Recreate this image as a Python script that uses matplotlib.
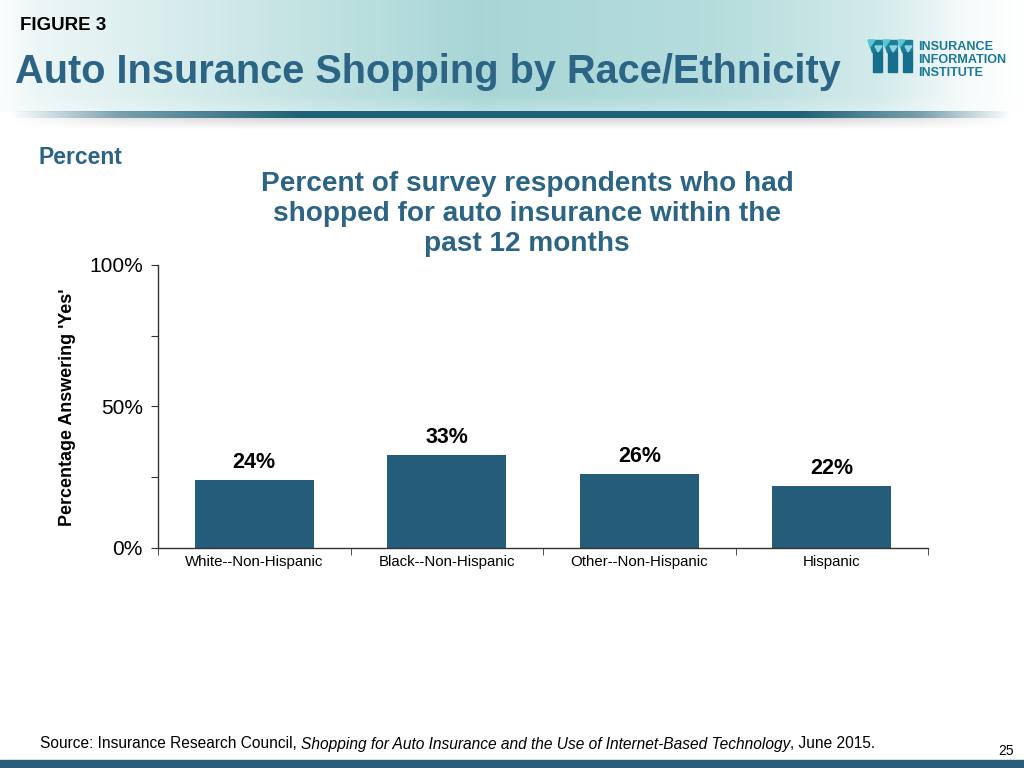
import numpy as np
import matplotlib
matplotlib.use('Agg')
import matplotlib.pyplot as plt
from matplotlib.patches import Rectangle, Polygon

plt.rcParams['font.family'] = ['Liberation Sans', 'DejaVu Sans']

# chart data
categories = ['White--Non-Hispanic', 'Black--Non-Hispanic', 'Other--Non-Hispanic', 'Hispanic']
pct_yes = [24, 33, 26, 22]
value_labels = ['24%', '33%', '26%', '22%']
y_ticks = [0, 25, 50, 75, 100]
y_tick_labels = ['0%', '', '50%', '', '100%']

bar_color = '#245c7a'
title_color = '#2b6485'

fig = plt.figure(figsize=(10.24, 7.68), dpi=100)

# background layer in pixel coordinates
bg = fig.add_axes([0, 0, 1, 1], zorder=-1)
bg.set_xlim(0, 1024)
bg.set_ylim(768, 0)
bg.axis('off')

# header gradient
W = 1024
xs = np.arange(W)
prof = np.interp(xs, [0, 40, 200, 480, 720, 880, 970, 1024],
                 [0.05, 0.2, 0.45, 0.9, 0.75, 0.45, 0.08, 0.0])
teal = np.array([0.62, 0.82, 0.82])
rows = np.ones(112)
rows[95:] = np.linspace(1, 0.75, 17)
img = np.ones((112, W, 3))
for k in range(3):
    img[:, :, k] = 1 - np.outer(rows, prof) * (1 - teal[k])
bg.imshow(img, extent=[0, 1024, 112, 0], aspect='auto', zorder=0)

# dark rule under header + shadow
alpha_prof = np.interp(xs, [10, 120, 300, 800, 920, 1010], [0, 0.6, 1, 1, 0.6, 0])
rule = np.zeros((7, W, 4))
rule[:, :, 0] = 0.12
rule[:, :, 1] = 0.38
rule[:, :, 2] = 0.47
rule[:, :, 3] = alpha_prof
bg.imshow(rule, extent=[0, 1024, 118, 111], aspect='auto', zorder=1)
shadow = np.zeros((12, W, 4))
shadow[:, :, :3] = 0.55
shadow[:, :, 3] = np.outer(np.linspace(0.35, 0, 12), alpha_prof)
bg.imshow(shadow, extent=[0, 1024, 130, 118], aspect='auto', zorder=1)

# bottom strip
bg.add_patch(Rectangle((0, 760), 1024, 8, color='#2a5d78', zorder=1))

# logo
for i in range(3):
    x0 = 868 + 15 * i
    bg.add_patch(Polygon([(x0, 40), (x0 + 14, 40), (x0 + 14, 52), (x0 + 4, 52)],
                         color='#1b7f9c', zorder=2))
    bg.add_patch(Polygon([(x0, 40), (x0 + 7, 40), (x0 + 2, 47)],
                         color='#5cc3d3', zorder=3))
    bg.add_patch(Polygon([(x0 + 7, 46), (x0 + 14, 46), (x0 + 10, 52)],
                         color='#8fd6e0', zorder=3))
    bg.add_patch(Rectangle((x0 + 5, 52), 9, 20, color='#16708d', zorder=2))
for txt, yy in zip(['INSURANCE', 'INFORMATION', 'INSTITUTE'], [47, 60, 73]):
    bg.text(918, yy, txt, fontsize=9.1, fontweight='bold', color='#1b7896',
            va='center', ha='left')

# header texts
bg.text(20, 25, 'FIGURE 3', fontsize=13.5, fontweight='bold', color='black',
        va='center', ha='left')
bg.text(15, 72, 'Auto Insurance Shopping by Race/Ethnicity', fontsize=28.6,
        fontweight='bold', color=title_color, va='center', ha='left')

bg.text(38, 158, 'Percent', fontsize=16.5, fontweight='bold', color=title_color,
        va='center', ha='left')
bg.text(527, 214, 'Percent of survey respondents who had\nshopped for auto insurance within the\npast 12 months',
        fontsize=20.2, fontweight='bold', color=title_color, va='center', ha='center',
        linespacing=1.18)
bg.text(68, 407, "Percentage Answering 'Yes'", fontsize=12.9, fontweight='bold',
        color='black', rotation=90, va='center', ha='center')

# source line
t1 = bg.text(40, 744, 'Source: Insurance Research Council, ', fontsize=11.2,
             va='center', ha='left')
t2 = bg.annotate('Shopping for Auto Insurance and the Use of Internet-Based Technology',
                 xy=(1, 0), xycoords=t1, va='bottom', ha='left', fontsize=11.2,
                 style='italic')
bg.annotate(', June 2015.', xy=(1, 0), xycoords=t2, va='bottom', ha='left', fontsize=11.2)
bg.text(1006, 751, '25', fontsize=10, va='center', ha='center')

# main chart
ax = fig.add_axes([0.1543, 0.2865, 0.7520, 0.3685])
x = np.arange(len(categories))
bars = ax.bar(x, pct_yes, width=0.62, color=bar_color, zorder=2)
for rect, lab in zip(bars, value_labels):
    ax.annotate(lab, xy=(rect.get_x() + rect.get_width() / 2, rect.get_height()),
                xytext=(0, 5), textcoords='offset points', ha='center', va='bottom',
                fontsize=15.5, fontweight='bold', color='black')

ax.set_xlim(-0.5, len(categories) - 0.5)
ax.set_ylim(0, 100)
ax.set_yticks(y_ticks)
ax.set_yticklabels(y_tick_labels, fontsize=15)
ax.set_xticks(x)
ax.set_xticklabels(categories, fontsize=10.8)
ax.set_xticks(np.arange(len(categories) + 1) - 0.5, minor=True)
ax.tick_params(axis='x', which='major', length=0, pad=5)
ax.tick_params(axis='x', which='minor', length=5, direction='out', color='#333333')
ax.tick_params(axis='y', length=5, direction='out', color='#333333', pad=6)
for s in ['top', 'right']:
    ax.spines[s].set_visible(False)
for s in ['left', 'bottom']:
    ax.spines[s].set_color('#333333')
    ax.spines[s].set_linewidth(1)
ax.patch.set_alpha(0)

fig.savefig('out.png', dpi=100)
